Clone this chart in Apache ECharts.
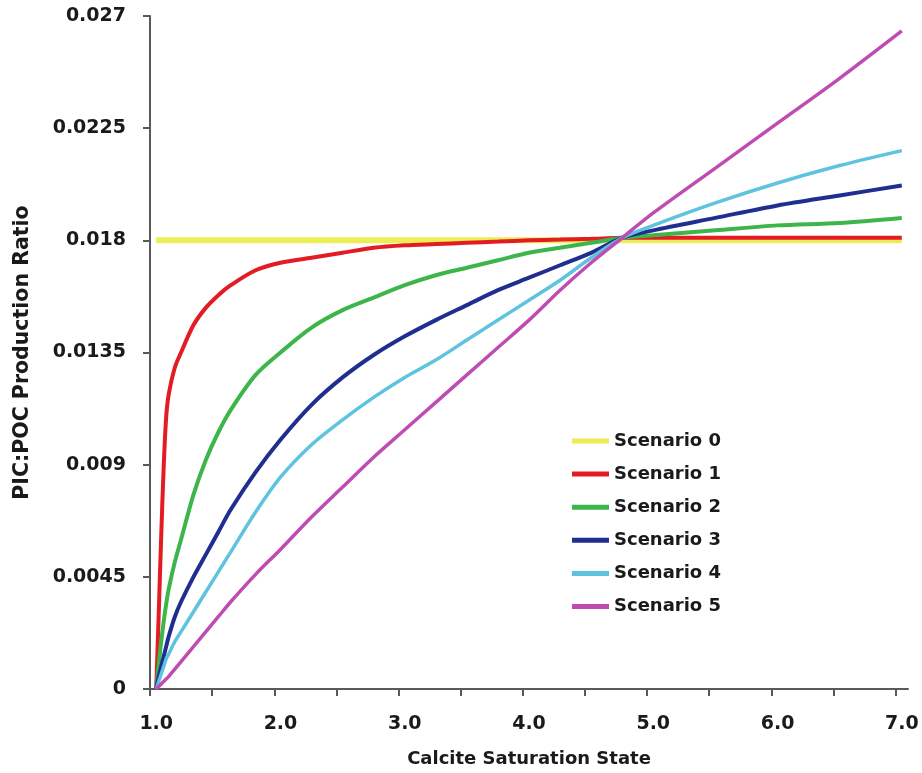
<!DOCTYPE html>
<html>
<head>
<meta charset="utf-8">
<title>PIC:POC Production Ratio</title>
<script src="https://cdn.jsdelivr.net/npm/echarts@6.0.0/dist/echarts.min.js"></script>
<style>
    html, body {
        margin: 0;
        padding: 0;
        background: #ffffff;
    }
    #chart {
        width: 922px;
        height: 773px;
    }
</style>
</head>
<body>
<div id="chart"></div>
<script>
// calcite saturation state (x)
var omega = [1.0, 1.02, 1.04, 1.06, 1.08, 1.1, 1.15, 1.2, 1.3, 1.4, 1.5, 1.6, 1.8, 2.0, 2.25, 2.5, 2.75, 3.0, 3.25, 3.5, 3.75, 4.0, 4.25, 4.5, 4.75, 5.0, 5.5, 6.0, 6.5, 7.0]

var scenario0 = [0.018, 0.018, 0.018, 0.018, 0.018, 0.018, 0.018, 0.018, 0.018, 0.018, 0.018, 0.018, 0.018, 0.018, 0.018, 0.018, 0.018, 0.018, 0.018, 0.018, 0.018, 0.018, 0.018, 0.018, 0.018, 0.018, 0.018, 0.018, 0.018, 0.018]
var scenario1 = [0, 0.0030, 0.0061, 0.0089, 0.0109, 0.0118, 0.0129, 0.0135, 0.0146, 0.0153, 0.0158, 0.0162, 0.0168, 0.0171, 0.0173, 0.0175, 0.0177, 0.0178, 0.01785, 0.0179, 0.01795, 0.0180, 0.01803, 0.01806, 0.0181, 0.0181, 0.0181, 0.0181, 0.0181, 0.0181]
var scenario2 = [0, 0.0010, 0.0019, 0.0027, 0.0034, 0.0040, 0.0051, 0.0060, 0.0078, 0.0092, 0.0103, 0.0112, 0.0126, 0.0135, 0.0145, 0.0152, 0.0157, 0.0162, 0.0166, 0.0169, 0.0172, 0.0175, 0.0177, 0.0179, 0.0181, 0.0182, 0.0184, 0.0186, 0.0187, 0.0189]
var scenario3 = [0, 0.0005, 0.0009, 0.0013, 0.0017, 0.0021, 0.0029, 0.0035, 0.0045, 0.0054, 0.0063, 0.0072, 0.0087, 0.0100, 0.0114, 0.0125, 0.0134, 0.01415, 0.0148, 0.0154, 0.0160, 0.0165, 0.0170, 0.0175, 0.0181, 0.0184, 0.0189, 0.0194, 0.0198, 0.0202]
var scenario4 = [0, 0.0003, 0.0006, 0.0009, 0.0012, 0.0014, 0.0019, 0.0023, 0.0031, 0.0039, 0.0047, 0.0055, 0.0071, 0.0085, 0.0098, 0.0108, 0.0117, 0.0125, 0.0132, 0.0140, 0.0148, 0.0156, 0.0164, 0.0173, 0.0181, 0.0186, 0.0195, 0.0203, 0.0210, 0.0216]
var scenario5 = [0, 0.0001, 0.0002, 0.0003, 0.0004, 0.0005, 0.0008, 0.0011, 0.0017, 0.0023, 0.0029, 0.0035, 0.0046, 0.0056, 0.0069, 0.0081, 0.0093, 0.0104, 0.0115, 0.0126, 0.0137, 0.0148, 0.0160, 0.0171, 0.0181, 0.0191, 0.0209, 0.0227, 0.0245, 0.0264]

var seriesNames = ['Scenario 0', 'Scenario 1', 'Scenario 2', 'Scenario 3', 'Scenario 4', 'Scenario 5']
var seriesValues = [scenario0, scenario1, scenario2, scenario3, scenario4, scenario5]

var xTickLabels = [1, 2, 3, 4, 5, 6, 7]
var xTickMarks = [0.95, 1.45, 1.95, 2.45, 2.95, 3.45, 3.95, 4.45, 4.95, 5.45, 5.95, 6.45, 6.95]
var yTickLabels = [0, 0.0045, 0.009, 0.0135, 0.018, 0.0225, 0.027]

var colors = ['#eded55', '#e31b23', '#3db54a', '#1f2e8f', '#5ec3de', '#bf4cb3']
var widths = [6, 4, 4, 4, 3.5, 3.5]

var chart = echarts.init(document.getElementById('chart'))

var fontFamily = '"DejaVu Sans", sans-serif'
var axisColor = '#595959'

var options = {
    backgroundColor: '#ffffff',
    animation: false,
    color: colors,
    grid: {
        left: 150,
        right: 14,
        top: 16,
        bottom: 83,
    },
    legend: {
        orient: 'vertical',
        left: 567,
        top: 425,
        icon: 'rect',
        itemWidth: 37,
        itemHeight: 5,
        itemGap: 11.1,
        textStyle: {
            color: '#1a1a1a',
            fontFamily: fontFamily,
            fontWeight: 'bold',
            fontSize: 18,
            lineHeight: 22,
        },
        data: seriesNames,
    },
    xAxis: {
        type: 'value',
        min: 0.95,
        max: 7.05,
        name: 'Calcite Saturation State',
        nameLocation: 'middle',
        nameGap: 61,
        nameTextStyle: {
            color: '#1a1a1a',
            fontFamily: fontFamily,
            fontWeight: 'bold',
            fontSize: 18,
        },
        splitLine: {
            show: false,
        },
        axisLine: {
            show: true,
            lineStyle: {
                color: axisColor,
                width: 2,
            },
        },
        axisTick: {
            show: true,
            length: 7,
            customValues: xTickMarks,
            lineStyle: {
                color: axisColor,
                width: 2,
            },
        },
        axisLabel: {
            customValues: xTickLabels,
            margin: 26,
            color: '#1a1a1a',
            fontFamily: fontFamily,
            fontWeight: 'bold',
            fontSize: 19,
            formatter: function (v) {
                return v.toFixed(1)
            },
        },
    },
    yAxis: {
        type: 'value',
        min: 0,
        max: 0.027,
        name: 'PIC:POC Production Ratio',
        nameLocation: 'middle',
        nameRotate: 90,
        nameGap: 117,
        nameTextStyle: {
            color: '#1a1a1a',
            fontFamily: fontFamily,
            fontWeight: 'bold',
            fontSize: 20.5,
        },
        splitLine: {
            show: false,
        },
        axisLine: {
            show: true,
            lineStyle: {
                color: axisColor,
                width: 2,
            },
        },
        axisTick: {
            show: true,
            length: 7,
            customValues: yTickLabels,
            lineStyle: {
                color: axisColor,
                width: 2,
            },
        },
        axisLabel: {
            customValues: yTickLabels,
            margin: 24,
            padding: [5, 0, 0, 0],
            color: '#1a1a1a',
            fontFamily: fontFamily,
            fontWeight: 'bold',
            fontSize: 19,
            formatter: function (v) {
                return String(+v.toFixed(4))
            },
        },
    },
    series: [],
}

options.series = seriesNames.map(function (name, i) {
    return {
        name: name,
        type: 'line',
        showSymbol: false,
        symbol: 'none',
        smooth: 0.3,
        lineStyle: {
            color: colors[i],
            width: widths[i],
        },
        data: omega.map(function (x, k) {
            return [x, seriesValues[i][k]]
        }),
    }
})

chart.setOption(options)
</script>
</body>
</html>
